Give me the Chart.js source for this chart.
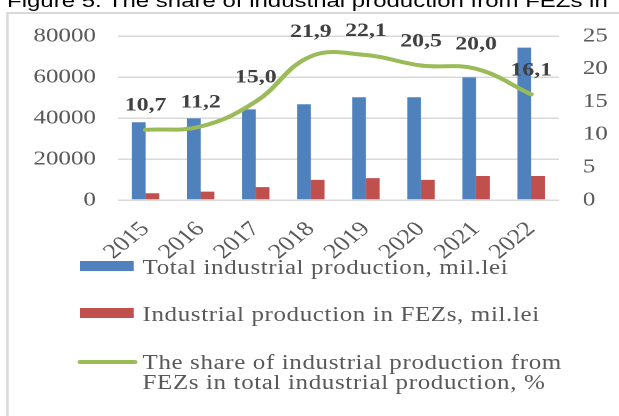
<!DOCTYPE html>
<html>
<head>
<meta charset="utf-8">
<script src="https://cdn.jsdelivr.net/npm/chart.js@4/dist/chart.umd.min.js"></script>
<style>
  html, body { margin: 0; padding: 0; background: #fff; overflow: hidden; }
  /* the source figure is stretched sideways, so the whole layout is drawn
     495px wide and widened by 1.25 */
  #wrap {
    position: relative; width: 495px; height: 416px;
    transform: scaleX(1.25); transform-origin: 0 0;
  }
  #title {
    position: absolute; left: 5.6px; top: -10px; white-space: nowrap;
    font: 19.2px/21px "Liberation Sans", sans-serif; color: #000;
  }
  #frame {
    position: absolute; left: 4.8px; top: 12px; width: 520px; height: 440px;
    border: 2px solid #d9d9d9; box-sizing: border-box;
  }
  #chart { position: absolute; left: 0; top: 0; }
  #legend { position: absolute; left: 0; top: 0; width: 495px; height: 416px; }
  .item { position: absolute; left: 61.6px; }
  .swatch { position: absolute; }
  .text {
    position: absolute; left: 52.4px; white-space: pre; letter-spacing: 0.5px;
    font: 20px/20px "Liberation Serif", serif; color: #595959;
  }
</style>
</head>
<body>
<div id="wrap">
  <div id="title">Figure 5. The share of industrial production from FEZs in</div>
  <div id="frame"></div>
  <canvas id="chart" width="495" height="416"></canvas>
  <div id="legend"></div>
</div>
<script>
const years = ["2015", "2016", "2017", "2018", "2019", "2020", "2021", "2022"];
const totalProduction = [37900, 39800, 44200, 46700, 50100, 50100, 59800, 74300];
const fezProduction = [3300, 4100, 6300, 9800, 10700, 9800, 11700, 11700];
const fezShare = [10.7, 11.2, 15.0, 21.9, 22.1, 20.5, 20.0, 16.1];

const seriesNames = [
    "Total industrial production, mil.lei",
    "Industrial production in FEZs, mil.lei",
    "The share of industrial production from\nFEZs in total industrial production, %"
];

const BLUE = "#4F81BD";
const RED = "#C0504D";
const GREEN = "#9BBB59";

// value labels above the line points, with decimal comma
const shareLabels = {
    id: "shareLabels",
    afterDatasetsDraw(chart) {
        const ctx = chart.ctx;
        const meta = chart.getDatasetMeta(2);
        ctx.save();
        ctx.font = "bold 19px 'Liberation Serif'";
        ctx.fillStyle = "#404040";
        ctx.textAlign = "center";
        ctx.textBaseline = "middle";
        meta.data.forEach((pt, i) => {
            ctx.fillText(fezShare[i].toFixed(1).replace(".", ","), pt.x, pt.y - 24);
        });
        ctx.restore();
    }
};

const tickFont = { family: "Liberation Serif", size: 20 };

const chart = new Chart(document.getElementById("chart"), {
    data: {
        labels: years,
        datasets: [
            {
                type: "bar",
                label: seriesNames[0],
                data: totalProduction,
                backgroundColor: BLUE,
                yAxisID: "y",
                order: 1
            },
            {
                type: "bar",
                label: seriesNames[1],
                data: fezProduction,
                backgroundColor: RED,
                yAxisID: "y",
                order: 1
            },
            {
                type: "line",
                label: seriesNames[2],
                data: fezShare,
                borderColor: GREEN,
                borderWidth: 4,
                borderCapStyle: "round",
                tension: 0.4,
                pointRadius: 0,
                yAxisID: "y1",
                order: 0
            }
        ]
    },
    options: {
        responsive: false,
        animation: false,
        devicePixelRatio: 2,
        layout: { padding: { top: 36, left: 0, right: 0, bottom: 0 } },
        datasets: {
            bar: { categoryPercentage: 0.5, barPercentage: 1.0 }
        },
        plugins: {
            legend: { display: false },
            tooltip: { enabled: false }
        },
        scales: {
            x: {
                grid: { display: false, drawTicks: false },
                border: { display: false },
                ticks: {
                    font: { family: "Liberation Serif", size: 21 },
                    color: "#595959",
                    maxRotation: 45,
                    minRotation: 45,
                    padding: 17
                },
                afterFit: s => { s.height = 216; }
            },
            y: {
                position: "left",
                min: 0,
                max: 80000,
                grid: { color: "#d9d9d9", lineWidth: 1.5, drawTicks: false },
                border: { display: false },
                ticks: {
                    stepSize: 20000,
                    font: tickFont,
                    color: "#595959",
                    padding: 17.6,
                    callback: v => String(v)
                },
                afterFit: s => { s.width = 94.4; }
            },
            y1: {
                position: "right",
                min: 0,
                max: 25,
                grid: { display: false, drawTicks: false },
                border: { display: false },
                ticks: { stepSize: 5, font: tickFont, color: "#595959", padding: 19.2 },
                afterFit: s => { s.width = 48; }
            }
        }
    },
    plugins: [shareLabels]
});

// legend built from the chart's datasets
const legend = document.getElementById("legend");
const rowTops = [257, 304, 352];
chart.data.datasets.forEach((ds, i) => {
    const item = document.createElement("div");
    item.className = "item";
    item.style.top = rowTops[i] + "px";
    const sw = document.createElement("div");
    sw.className = "swatch";
    if (ds.type === "line") {
        Object.assign(sw.style, { left: "0px", top: "8px", width: "48.8px", height: "4px",
            borderRadius: "2px", background: ds.borderColor });
    } else {
        Object.assign(sw.style, { left: "2.4px", top: "4px", width: "43.2px", height: "10px",
            background: ds.backgroundColor });
    }
    const tx = document.createElement("div");
    tx.className = "text";
    tx.textContent = ds.label;
    item.appendChild(sw);
    item.appendChild(tx);
    legend.appendChild(item);
});
</script>
</body>
</html>
